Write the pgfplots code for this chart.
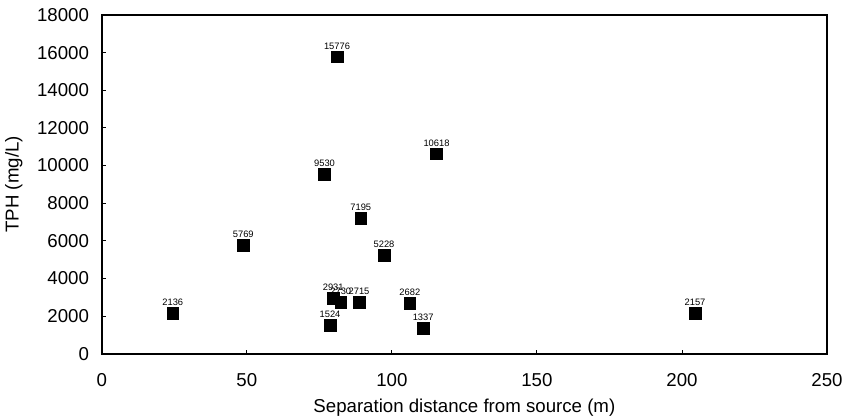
\documentclass[border=0pt]{standalone}
\usepackage{fontspec}
\setmainfont{Liberation Sans}
\usepackage{pgfplots}
\pgfplotsset{compat=1.18}
\usepackage{pgfplotstable}
\pgfplotstableread{
x y lab
24.5 2136 2136
48.8 5769 5769
76.8 9530 9530
78.7 1524 1524
79.8 2931 2931
81.1 15776 15776
82.4 2730 2730
88.7 2715 2715
89.3 7195 7195
97.3 5228 5228
106.2 2682 2682
110.8 1337 1337
115.4 10618 10618
204.5 2157 2157
}\datatable
\begin{document}
\begin{tikzpicture}
\begin{axis}[
  scale only axis,
  width=544pt, height=254pt,
  xmin=0, xmax=250, ymin=0, ymax=18000,
  xtick={0,50,...,250},
  ytick={0,2000,...,18000},
  scaled y ticks=false,
  /pgf/number format/assume math mode=true,
  /pgf/number format/1000 sep={},
  tick label style={font=\fontsize{14}{16}\selectfont},
  xticklabel style={yshift=-11pt},
  yticklabel style={xshift=-6pt},
  major tick length=3pt,
  tick align=inside,
  xtick pos=bottom, ytick pos=left,
  axis line style={line width=1.3pt},
  tick style={line width=0.6pt, black},
  xlabel={Separation distance from source (m)},
  ylabel={TPH (mg/L)},
  label style={font=\fontsize{14}{16}\selectfont},
  xlabel style={at={(axis description cs:0.5,0)}, anchor=center, yshift=-40.5pt},
  ylabel style={at={(axis description cs:0,0.5)}, anchor=center, rotate=0, xshift=0pt, yshift=66pt},
]
\addplot[only marks, mark=square*, mark size=4.4pt, black,
  nodes near coords, point meta=explicit symbolic,
  nodes near coords style={font=\fontsize{7}{8}\selectfont, anchor=south, yshift=4.5pt, inner sep=1pt}]
  table[x=x, y=y, meta=lab] {\datatable};
\coordinate (sw) at (rel axis cs:0,0);
\coordinate (ne) at (rel axis cs:1,1);
\end{axis}
\pgfresetboundingbox
\path[use as bounding box] ([xshift=-76.3pt,yshift=-48.75pt]sw) rectangle ([xshift=11.25pt,yshift=11.25pt]ne);
\end{tikzpicture}
\end{document}
